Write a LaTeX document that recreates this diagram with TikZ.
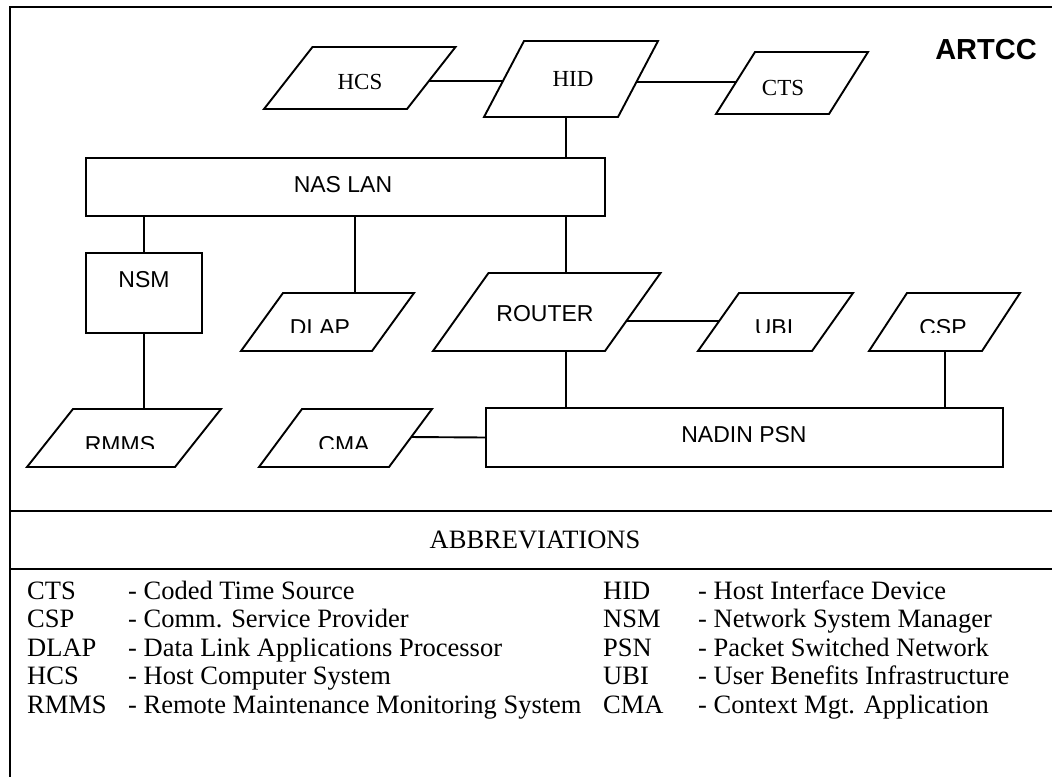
\documentclass[tikz,border=0pt]{standalone}
\usepackage{fontspec}
\setmainfont{Liberation Serif}
\setsansfont{Liberation Sans}
\usetikzlibrary{calc}
% name, bottom-left x, width, slant, top y, bottom y
\newcommand{\drawpara}[6]{%
  \coordinate (#1-bl) at (#2,#6);
  \coordinate (#1-br) at ({#2+#3},#6);
  \coordinate (#1-tl) at ({#2+#4},#5);
  \coordinate (#1-tr) at ({#2+#3+#4},#5);
  \draw[parashape] (#1-bl) -- (#1-br) -- (#1-tr) -- (#1-tl) -- cycle;}
\begin{document}
\begin{tikzpicture}[x=1pt,y=-1pt,
  parashape/.style={line width=1.9pt, line join=miter},
  box/.style={draw, rectangle, line width=1.9pt, inner sep=0pt, outer sep=0pt},
  conn/.style={line width=1.9pt},
  frame/.style={line width=2pt},
  seriflbl/.style={font=\fontsize{23}{26}\selectfont, anchor=base, inner sep=0pt},
  sanslbl/.style={font=\sffamily\fontsize{23}{27}\selectfont, anchor=base, inner sep=0pt},
  titlelbl/.style={font=\sffamily\bfseries\fontsize{29}{33}\selectfont, anchor=base, inner sep=0pt},
  legend/.style={font=\fontsize{26.5}{30}\selectfont, anchor=base west, inner sep=0pt},
  headlbl/.style={font=\fontsize{26.5}{30}\selectfont, anchor=base, inner sep=0pt}]
\useasboundingbox (0,0) rectangle (1052,777);

% frame
\draw[frame] (1052,7) -- (10,7) -- (10,777);
\draw[frame] (10,511) -- (1052,511);
\draw[frame] (10,569) -- (1052,569);

% shapes
\drawpara{hcs}{264}{143}{48.5}{47}{109}
\drawpara{hid}{484}{134}{40}{41}{117}
\drawpara{cts}{716}{113}{39}{52}{114}
\drawpara{dlap}{241}{131}{42}{293}{351}
\drawpara{router}{433}{172}{55.5}{273}{351}
\drawpara{ubi}{698}{114}{41}{293}{351}
\drawpara{csp}{869}{113}{38}{293}{351}
\drawpara{rmms}{27}{148}{46}{409}{467}
\drawpara{cma}{259}{130}{43}{409}{467}
\node[box, minimum width=519pt, minimum height=58pt] (naslan) at (345.5,187) {};
\node[box, minimum width=116pt, minimum height=80pt] (nsm) at (144,293) {};
\node[box, minimum width=517pt, minimum height=59pt] (nadin) at (744.5,437.5) {};

% labels
\node[seriflbl] (hcs) at (360,89) {HCS};
\node[seriflbl] (hid) at (573,86) {HID};
\node[seriflbl] (cts) at (783,95) {CTS};
\node[sanslbl] (naslan-t) at (343,192) {NAS LAN};
\node[sanslbl] (nsm-t) at (144,287) {NSM};
\node[sanslbl] (router) at (545,321) {ROUTER};
\node[sanslbl] (nadin-t) at (744,442) {NADIN PSN};
\node[titlelbl] (artcc) at (986,59) {ARTCC};
\begin{scope}
  \clip (200,280) rectangle (1040,332);
  \node[sanslbl] (dlap) at (320,335) {DLAP};
  \node[sanslbl] (ubi) at (774,335) {UBI};
  \node[sanslbl] (csp) at (943,335) {CSP};
\end{scope}
\begin{scope}
  \clip (20,400) rectangle (480,448.5);
  \node[sanslbl] (rmms) at (120,452) {RMMS};
  \node[sanslbl] (cma) at (344,452) {CMA};
\end{scope}

% connectors
\coordinate (trunk) at (566,0);
\draw[conn] ($(hcs-br)!0.452!(hcs-tr)$) -- ($(hid-bl)!0.474!(hid-tl)$);
\draw[conn] ($(hid-br)!0.46!(hid-tr)$) -- ($(cts-bl)!0.516!(cts-tl)$);
\draw[conn] (hid-bl -| trunk) -- (naslan.north -| trunk);
\draw[conn] (naslan.south -| trunk) -- (router-tl -| trunk);
\draw[conn] (router-bl -| trunk) -- (nadin.north -| trunk);
\draw[conn] (nsm.north) -- (nsm.north |- naslan.south);
\draw[conn] (nsm.south) -- (nsm.south |- rmms-tl);
\coordinate (dlapx) at ($(dlap-tl)!0.55!(dlap-tr)$);
\draw[conn] (dlapx) -- (dlapx |- naslan.south);
\draw[conn] ($(router-br)!0.385!(router-tr)$) -- ($(ubi-bl)!0.517!(ubi-tl)$);
\coordinate (cspx) at ($(csp-bl)!0.67!(csp-br)$);
\draw[conn] (cspx) -- (cspx |- nadin.north);
\draw[conn] ($(cma-br)!0.517!(cma-tr)$) -- (nadin.west);

% legend
\node[headlbl] (abbr) at (535,548) {ABBREVIATIONS};
\node[legend] (a1) at (27,599) {CTS};
\node[legend] (d1) at (128,599) {- Coded Time Source};
\node[legend] (a2) at (27,627.5) {CSP};
\node[legend] (d2) at (128,627.5) {- Comm. Service Provider};
\node[legend] (a3) at (27,656) {DLAP};
\node[legend] (d3) at (128,656) {- Data Link Applications Processor};
\node[legend] (a4) at (27,684.5) {HCS};
\node[legend] (d4) at (128,684.5) {- Host Computer System};
\node[legend] (a5) at (27,713) {RMMS};
\node[legend] (d5) at (128,713) {- Remote Maintenance Monitoring System};
\node[legend] (b1) at (603,599) {HID};
\node[legend] (e1) at (698,599) {- Host Interface Device};
\node[legend] (b2) at (603,627.5) {NSM};
\node[legend] (e2) at (698,627.5) {- Network System Manager};
\node[legend] (b3) at (603,656) {PSN};
\node[legend] (e3) at (698,656) {- Packet Switched Network};
\node[legend] (b4) at (603,684.5) {UBI};
\node[legend] (e4) at (698,684.5) {- User Benefits Infrastructure};
\node[legend] (b5) at (603,713) {CMA};
\node[legend] (e5) at (698,713) {- Context Mgt. Application};
\end{tikzpicture}
\end{document}
